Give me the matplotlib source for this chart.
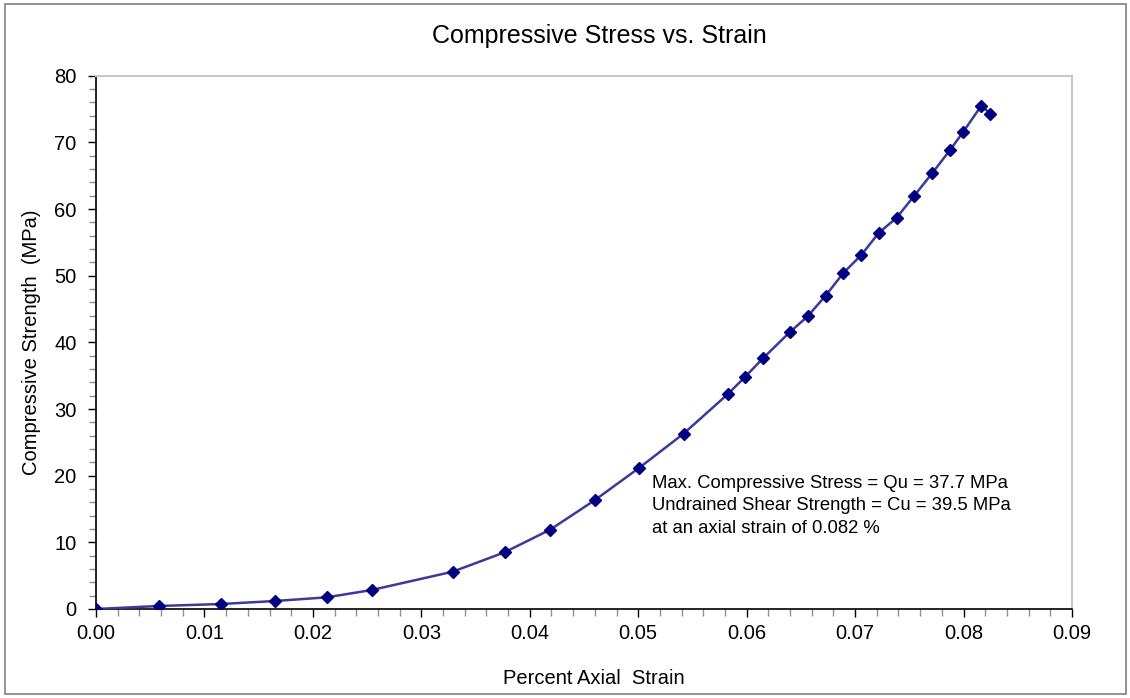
import matplotlib
matplotlib.use("Agg")
import matplotlib.pyplot as plt
from matplotlib.ticker import MultipleLocator, FormatStrFormatter
from matplotlib.patches import Rectangle

plt.rcParams['font.family'] = ['Liberation Sans', 'DejaVu Sans']

strain = [0.0, 0.00578, 0.01153, 0.01651, 0.02128, 0.02543, 0.0329, 0.03767,
          0.04188, 0.04597, 0.05003, 0.05418, 0.05824, 0.05984, 0.0615, 0.06396,
          0.06562, 0.06728, 0.06891, 0.07057, 0.07217, 0.07383, 0.07546, 0.07712,
          0.07878, 0.07998, 0.08164, 0.08247]
stress = [0.0, 0.45, 0.75, 1.2, 1.75, 2.85, 5.6, 8.5,
          11.9, 16.3, 21.1, 26.3, 32.2, 34.8, 37.6, 41.5,
          43.9, 47.0, 50.4, 53.1, 56.4, 58.7, 62.0, 65.4,
          68.9, 71.6, 75.5, 74.3]

title = "Compressive Stress vs. Strain"
xlabel = "Percent Axial  Strain"
ylabel = "Compressive Strength  (MPa)"
note = ("Max. Compressive Stress = Qu = 37.7 MPa\n"
        "Undrained Shear Strength = Cu = 39.5 MPa\n"
        "at an axial strain of 0.082 %")

W, H = 1130, 698
fig = plt.figure(figsize=(W / 100, H / 100), dpi=100)
fig.patches.append(Rectangle((5 / W, 4 / H), 1121 / W, 690 / H, transform=fig.transFigure,
                             fill=False, edgecolor='#808080', linewidth=1.2))

left, right, top, bottom = 96, 1072, 75.7, 609
ax = fig.add_axes([left / W, 1 - bottom / H, (right - left) / W, (bottom - top) / H])

ax.plot(strain, stress, color='#3a3a9a', linewidth=1.8, marker='D', markersize=6.5,
        markerfacecolor='#000080', markeredgecolor='#000080', zorder=3)

ax.set_xlim(0, 0.09)
ax.set_ylim(0, 80)
ax.xaxis.set_major_locator(MultipleLocator(0.01))
ax.xaxis.set_minor_locator(MultipleLocator(0.002))
ax.yaxis.set_major_locator(MultipleLocator(10))
ax.yaxis.set_minor_locator(MultipleLocator(2))
ax.xaxis.set_major_formatter(FormatStrFormatter('%.2f'))

for s in ['top', 'right']:
    ax.spines[s].set_color('#c8c8c8')
    ax.spines[s].set_linewidth(1.5)
for s in ['left', 'bottom']:
    ax.spines[s].set_color('black')
    ax.spines[s].set_linewidth(1.2)

ax.tick_params(axis='both', which='major', direction='out', length=6, width=1,
               color='black', labelsize=14.5)
ax.tick_params(axis='x', which='major', pad=5)
ax.tick_params(axis='y', which='major', pad=8)
ax.tick_params(axis='both', which='minor', direction='out', length=5, width=1,
               color='#909090')

fig.text(599 / W, 1 - 36 / H, title, ha='center', va='center', fontsize=18)
fig.text(594 / W, 1 - 678 / H, xlabel, ha='center', va='center', fontsize=14.5)
fig.text(32 / W, 1 - 342 / H, ylabel, ha='center', va='center', fontsize=14.5, rotation=90)
fig.text(652 / W, 1 - 506 / H, note, ha='left', va='center', fontsize=13.3, linespacing=1.4)

fig.savefig("out.png", dpi=100)
